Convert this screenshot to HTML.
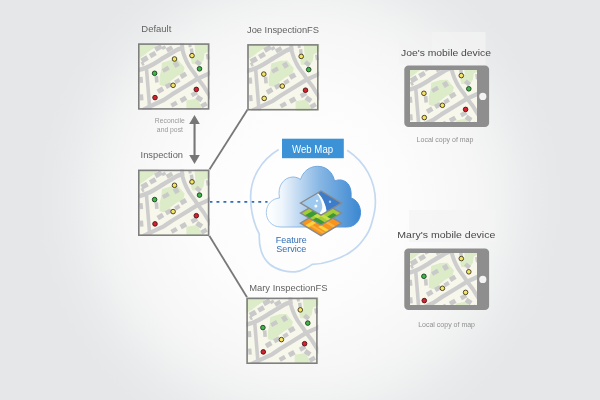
<!DOCTYPE html>
<html>
<head>
<meta charset="utf-8">
<title>Branch versioning workflow</title>
<style>
html,body{margin:0;padding:0;background:#e6e7e8;}
body{width:600px;height:400px;overflow:hidden;font-family:"Liberation Sans",sans-serif;}
svg{display:block;will-change:transform;}
text{font-family:"Liberation Sans",sans-serif;}
</style>
</head>
<body>
<svg width="600" height="400" viewBox="0 0 600 400">
<defs>
  <radialGradient id="bg" cx="300" cy="200" r="265" gradientUnits="userSpaceOnUse">
    <stop offset="0" stop-color="#ffffff"/>
    <stop offset="0.4" stop-color="#fcfcfc"/>
    <stop offset="0.66" stop-color="#f6f6f6"/>
    <stop offset="0.75" stop-color="#f1f2f2"/>
    <stop offset="0.87" stop-color="#eaebec"/>
    <stop offset="0.95" stop-color="#e7e8e9"/>
    <stop offset="1" stop-color="#e6e7e8"/>
  </radialGradient>
  <linearGradient id="cloudg" x1="268" y1="0" x2="361" y2="0" gradientUnits="userSpaceOnUse">
    <stop offset="0" stop-color="#ffffff"/>
    <stop offset="0.15" stop-color="#eef5fc"/>
    <stop offset="0.55" stop-color="#88b7e4"/>
    <stop offset="1" stop-color="#3a87d1"/>
  </linearGradient>
  <linearGradient id="cloudst" x1="268" y1="0" x2="361" y2="0" gradientUnits="userSpaceOnUse">
    <stop offset="0" stop-color="#a9c9ec"/>
    <stop offset="1" stop-color="#3f8ad3"/>
  </linearGradient>
  <clipPath id="mapclip"><rect x="0" y="0" width="72" height="66.5"/></clipPath>
  <g id="map" clip-path="url(#mapclip)">
    <rect x="0" y="0" width="72" height="66.5" fill="#f7f7ec"/>
    <g fill="#dcebc8" stroke="#dcebc8" stroke-width="1.2" stroke-linejoin="round">
      <path d="M0,0 H20 L16,4 L10,8 L5,12 L0,15 Z"/>
      <path d="M24.5,20 L33.3,17.3 L39.8,17 L45.9,24.4 L44.8,29 L38,32.8 L33.3,36.5 L26,42 L22.2,41.1 L22.2,33.7 L24,26.3 Z"/>
      <path d="M57.1,0 H72 V7 L66,9.7 L65,16.2 L62.2,20.5 L54.5,20 L53.6,16.2 L58.1,11.6 L57.6,6 Z"/>
      <path d="M49,57.8 L59.3,55.9 L63,64.3 L62,66.5 H49 Z"/>
    </g>
    <g fill="#c9c9c9">
      <rect x="-3.6" y="-2.5" width="7.2" height="5" transform="translate(20.4,4.6) rotate(-30)"/>
      <rect x="-2" y="-1.6" width="4" height="3.2" transform="translate(25.8,4.3) rotate(-30)"/>
      <rect x="-3.2" y="-2.2" width="6.4" height="4.4" transform="translate(31.5,5.6) rotate(-30)"/>
      <rect x="-3.2" y="-2.4" width="6.4" height="4.8" transform="translate(14.8,11.3) rotate(-30)"/>
      <rect x="-3.4" y="-2.6" width="6.8" height="5.2" transform="translate(6.6,16) rotate(-30)"/>
      <rect x="-1.2" y="-2" width="2.4" height="4" transform="translate(4.6,20.4) rotate(-30)"/>
      <rect x="-1.7" y="-3" width="3.4" height="6" transform="translate(3.2,36.5) rotate(-5)"/>
      <rect x="-1.7" y="-3" width="3.4" height="6" transform="translate(3.6,54) rotate(-5)"/>
      <rect x="-3.4" y="-2.1" width="6.8" height="4.2" transform="translate(27.8,26) rotate(-30)"/>
      <rect x="-2.5" y="-2.8" width="5" height="5.6" transform="translate(38.2,21) rotate(-30)"/>
      <rect x="-1.8" y="-3.2" width="3.6" height="6.4" transform="translate(18.6,36) rotate(-5)"/>
      <rect x="-3.1" y="-2.4" width="6.2" height="4.8" transform="translate(45.4,32) rotate(-30)"/>
      <rect x="-2.6" y="-2" width="5.2" height="4" transform="translate(39.3,37.8) rotate(-30)"/>
      <rect x="-3.1" y="-2.3" width="6.2" height="4.6" transform="translate(30.5,42.2) rotate(-30)"/>
      <rect x="-3.1" y="-2.4" width="6.2" height="4.8" transform="translate(22.4,46.9) rotate(-30)"/>
      <rect x="-1.7" y="-2.6" width="3.4" height="5.2" transform="translate(53.7,7.8) rotate(-8)"/>
      <rect x="-1.5" y="-1.5" width="3" height="3" transform="translate(52,2.4) rotate(-8)"/>
      <rect x="-2.8" y="-2.2" width="5.6" height="4.4" transform="translate(60.2,19.6) rotate(40)"/>
      <rect x="-1.6" y="-2.6" width="3.2" height="5.2" transform="translate(69.8,13.3) rotate(-10)"/>
      <rect x="-3.1" y="-2.2" width="6.2" height="4.4" transform="translate(56.3,50.6) rotate(-30)"/>
      <rect x="-3.1" y="-2.4" width="6.2" height="4.8" transform="translate(61.3,55.2) rotate(35)"/>
      <rect x="-3.1" y="-2.2" width="6.2" height="4.4" transform="translate(66,61.6) rotate(-30)"/>
      <rect x="-3.1" y="-2.4" width="6.2" height="4.8" transform="translate(45.4,56) rotate(-30)"/>
      <rect x="-3.1" y="-2.2" width="6.2" height="4.4" transform="translate(36.1,60.8) rotate(-30)"/>
    </g>
    <g fill="none" stroke="#cdcdcd" stroke-linecap="round" stroke-linejoin="round">
      <path d="M-1,27.2 C4,26 8,24.6 11.9,22.7 C17,20 21,17.3 25.8,14.4 C30,11.8 34,9.3 38,7 C40,5.9 42,5.3 44,4.8" stroke-width="4.4"/>
      <path d="M44,-1 C44,2 44.2,4.5 44.6,7 C45.2,9.6 46,12 47,14.4 C48.2,17.3 49.5,20 51.1,22.7 C53,25.7 55,28.3 57.1,31 L59.9,35.3 L65.5,42.7 L70.1,50.1 L73,54.5" stroke-width="4"/>
      <path d="M73,29 L70,30.7 L59.9,35.3 L47.9,42.7 L34,51.1 L25.8,56.7 L12.8,62.7 L6,66" stroke-width="4.2"/>
      <path d="M8.4,24.7 L10,44 L11.5,62.7 L12,67" stroke-width="3.6"/>
    </g>
  </g>
  <g id="dy"><circle r="2.3" fill="#f7e463" stroke="#3b3620" stroke-width="0.9"/></g>
  <g id="dg"><circle r="2.3" fill="#3fb54a" stroke="#1c3d1e" stroke-width="0.9"/></g>
  <g id="dr"><circle r="2.3" fill="#d8202f" stroke="#4a1216" stroke-width="0.9"/></g>
  <g id="dotsFull">
    <use href="#dy" x="36.5" y="15.7"/>
    <use href="#dy" x="54" y="12.3"/>
    <use href="#dg" x="61.5" y="25.5"/>
    <use href="#dg" x="16.6" y="30"/>
    <use href="#dy" x="35.1" y="42"/>
    <use href="#dr" x="58.3" y="46.1"/>
    <use href="#dr" x="17" y="54.3"/>
  </g>
  <g id="dotsJoe">
    <use href="#dy" x="54" y="12.3"/>
    <use href="#dg" x="61.5" y="25.5"/>
    <use href="#dy" x="16.6" y="30"/>
    <use href="#dy" x="35.1" y="42"/>
    <use href="#dr" x="58.3" y="46.1"/>
    <use href="#dy" x="17" y="54.3"/>
  </g>
  <g id="dotsMary">
    <use href="#dy" x="54" y="12.3"/>
    <use href="#dg" x="61.5" y="25.5"/>
    <use href="#dg" x="16.6" y="30"/>
    <use href="#dy" x="35.1" y="42"/>
    <use href="#dr" x="58.3" y="46.1"/>
    <use href="#dr" x="17" y="54.3"/>
  </g>
  <g id="dotsMaryDev">
    <use href="#dy" x="54" y="12.3"/>
    <use href="#dy" x="61.5" y="25.5"/>
    <use href="#dg" x="16.6" y="30"/>
    <use href="#dy" x="35.1" y="42"/>
    <use href="#dy" x="58.3" y="46.1"/>
    <use href="#dr" x="17" y="54.3"/>
  </g>
  <clipPath id="scr1"><rect x="410" y="70" width="67" height="52"/></clipPath>
  <clipPath id="scr2"><rect x="410" y="253" width="67" height="52"/></clipPath>
</defs>

<rect width="600" height="400" fill="#e6e7e8"/>
<rect width="600" height="400" fill="url(#bg)"/>

<!-- connectors -->
<g stroke="#787878" stroke-width="1.8" fill="none" stroke-linecap="butt">
  <path d="M209,170.3 L247.6,109.6"/>
  <path d="M209,235.3 L247,297.2"/>
</g>
<path d="M209.5,201.9 H267.5" stroke="#2f6cba" stroke-width="1.7" stroke-dasharray="2.9 4.07" fill="none"/>

<!-- arrow -->
<g fill="#777777">
  <rect x="193.5" y="122" width="2.1" height="35"/>
  <path d="M194.5,115 L199.8,124 H189.2 Z"/>
  <path d="M194.5,164 L199.8,155 H189.2 Z"/>
</g>

<!-- tiles -->
<g transform="translate(138,43.3)"><use href="#map"/><use href="#dotsFull"/><rect x="0.8" y="0.8" width="69.8" height="64.8" fill="none" stroke="#7f7f7f" stroke-width="1.6"/></g>
<g transform="translate(247.2,44.1)"><use href="#map"/><use href="#dotsJoe"/><rect x="0.8" y="0.8" width="69.8" height="64.8" fill="none" stroke="#7f7f7f" stroke-width="1.6"/></g>
<g transform="translate(138,169.6)"><use href="#map"/><use href="#dotsFull"/><rect x="0.8" y="0.8" width="69.8" height="64.8" fill="none" stroke="#7f7f7f" stroke-width="1.6"/></g>
<g transform="translate(246.3,297.6)"><use href="#map"/><use href="#dotsMary"/><rect x="0.8" y="0.8" width="69.8" height="64.8" fill="none" stroke="#7f7f7f" stroke-width="1.6"/></g>

<!-- ring -->
<g fill="none" stroke="#c3d9f1" stroke-width="1.7" stroke-linejoin="miter">
  <path d="M278.7,149.5 C261,160 250.6,178 250.6,197 C250.6,211 254,224 259.3,234.2 C259,240 259.6,246 261.2,251 C262.3,254.5 263.6,257 265.2,259.3 C266.6,261.3 268.2,263 270,264.5 C273.5,267.3 278,269.5 283,270.6 C287,271.6 291,272 295,271.8 C299,271.4 302.5,270 305.5,268.4 C308,267.2 310.3,265.8 312.2,264.4 C318.5,264.3 325,263 331,261 C337.5,259 343.5,256.5 349,253 C354.5,249.5 359.5,245 363,240 C367.5,234.5 370.5,228.5 372,222 C374,215.5 375.4,209 375.4,202 C375.6,181 365,162 347.2,150.2"/>
</g>

<!-- web map label -->
<rect x="282" y="138.7" width="61.8" height="19.5" fill="#3c92d6"/>
<text x="312.6" y="152.5" font-size="10" fill="#ffffff" text-anchor="middle" textLength="41" lengthAdjust="spacingAndGlyphs">Web Map</text>

<!-- cloud -->
<path id="cloud" d="M281,227 C271.5,227 266.3,220 266.3,212.5 C266.3,204 272.5,198.5 279.5,198 C277,186 284,177 293,177 C296,177 298.5,178 300.5,179.5 C303,171.5 309.5,166.3 317.5,166.3 C327,166.3 333,173 334.5,181 C337,180 339,179.8 341,180 C348.5,181 352,188 351,198 C356.5,199.5 360.5,205.5 360.5,212.5 C360.5,221 354.5,227 346.5,227 Z" fill="url(#cloudg)" stroke="url(#cloudst)" stroke-width="1"/>

<!-- layers icon -->
<g>
  <!-- bottom (orange) -->
  <g transform="matrix(20.5 12.4 20.5 -12.3 300.5 223.2)">
    <rect width="1" height="1" fill="#f7941e"/>
    <rect x="0.2" y="0" width="0.17" height="0.45" fill="#fdd23a"/>
    <rect x="0.58" y="0.28" width="0.42" height="0.14" fill="#fdd23a"/>
    <rect x="0.58" y="0.62" width="0.42" height="0.12" fill="#fbb03b"/>
    <rect x="0.37" y="0.12" width="0.63" height="0.1" fill="#fbb03b"/>
  </g>
  <path d="M300.5,223.2 L321,210.9 L341.5,223.2 L321,235.6 Z" fill="none" stroke="#8a8a8a" stroke-width="1.4"/>
  <!-- middle (green) -->
  <g transform="matrix(20.5 11.9 20.5 -11.9 300.5 213.1)">
    <rect width="1" height="1" fill="#a4cd39"/>
    <rect x="0.2" y="0" width="0.24" height="0.45" fill="#3a9b35"/>
    <rect x="0.58" y="0" width="0.42" height="0.2" fill="#3a9b35"/>
    <rect x="0.44" y="0.2" width="0.2" height="0.25" fill="#c9de47"/>
    <rect x="0.58" y="0.36" width="0.42" height="0.14" fill="#c9de47"/>
    <rect x="0.8" y="0.5" width="0.2" height="0.3" fill="#3a9b35"/>
  </g>
  <path d="M300.5,213.1 L321,201.2 L341.5,213.1 L321,225 Z" fill="none" stroke="#8a8a8a" stroke-width="1.4"/>
  <!-- top (blue) -->
  <path d="M300.5,203 L321,191 L341.5,203 L321,215.2 Z" fill="#9fcaef"/>
  <path d="M317.6,193 L321,191 L341.5,203 L326.3,212.1 C326.3,209 325.6,206 324.4,203 C323.4,200.5 322,197.8 320.3,195.5 Z" fill="#3d7cc8"/>
  <path d="M316.8,193.6 L317.8,193 C319.5,194.7 321.3,197 322.5,199.2 C323.8,201.5 325,204.5 325.8,207.5 C326.3,209.3 326.5,211 326.4,212 L321.6,214.9 L319.3,213.5 C321,211.8 322.3,209.5 322.3,207 C322.3,205 321.9,203.2 321.2,201.3 C320.2,198.7 318.8,196 316.8,193.6 Z" fill="#ffffff"/>
  <circle cx="317" cy="200.8" r="1.1" fill="#ffffff"/>
  <circle cx="315.9" cy="205.9" r="1.5" fill="#ffffff"/>
  <circle cx="330" cy="201.8" r="1.2" fill="#a9cdf0"/>
  <path d="M300.5,203 L321,191 L341.5,203 L321,215.2 Z" fill="none" stroke="#8a8a8a" stroke-width="1.4"/>
</g>

<text font-size="9" fill="#2e6db6"><tspan x="275.7" y="242.6" textLength="31" lengthAdjust="spacingAndGlyphs">Feature</tspan><tspan x="276.2" y="251.8" textLength="30" lengthAdjust="spacingAndGlyphs">Service</tspan></text>

<!-- labels -->
<g font-size="9.5" fill="#626262">
  <text x="141.3" y="32.2" textLength="30" lengthAdjust="spacingAndGlyphs">Default</text>
  <text x="247" y="32.6" textLength="72" lengthAdjust="spacingAndGlyphs">Joe InspectionFS</text>
  <text x="140.6" y="158.4" textLength="42.4" lengthAdjust="spacingAndGlyphs">Inspection</text>
  <text x="249.2" y="290.5" textLength="78.3" lengthAdjust="spacingAndGlyphs">Mary InspectionFS</text>
</g>
<g font-size="6.8" fill="#999999" text-anchor="middle">
  <text x="169.8" y="123.2">Reconcile</text>
  <text x="169.9" y="131.7">and post</text>
</g>

<!-- devices -->
<rect x="399" y="32" width="32.5" height="33" fill="#f3f3f3" opacity="0.4"/><rect x="431.5" y="32" width="54" height="33" fill="#f3f3f3" opacity="0.7"/>
<rect x="409" y="210" width="87" height="32" fill="#f3f3f3" opacity="0.7"/>
<g font-size="9.9" fill="#484848">
  <text x="401" y="55.6" textLength="90" lengthAdjust="spacingAndGlyphs">Joe's mobile device</text>
  <text x="397.3" y="237.6" textLength="98" lengthAdjust="spacingAndGlyphs">Mary's mobile device</text>
</g>

<rect x="404.3" y="65.4" width="84.8" height="61.7" rx="4.2" ry="4.2" fill="#8e8e8e"/>
<g clip-path="url(#scr1)"><g transform="translate(407.3,63.3)"><use href="#map"/><use href="#dotsJoe"/></g></g>
<circle cx="482.8" cy="96.4" r="3.6" fill="#f3f3f3"/>

<rect x="404.3" y="248.4" width="84.8" height="61.7" rx="4.2" ry="4.2" fill="#8e8e8e"/>
<g clip-path="url(#scr2)"><g transform="translate(407.3,246.3)"><use href="#map"/><use href="#dotsMaryDev"/></g></g>
<circle cx="482.8" cy="279.4" r="3.6" fill="#f3f3f3"/>

<g font-size="7" fill="#909090" text-anchor="middle">
  <text x="445" y="142.2">Local copy of map</text>
  <text x="446.6" y="327.1">Local copy of map</text>
</g>
</svg>
</body>
</html>
